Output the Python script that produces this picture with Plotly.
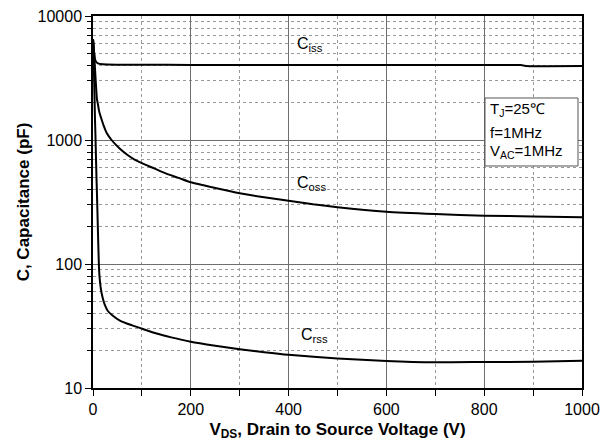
import math
import plotly.graph_objects as go

# ---- data ----
ciss_v = [0, 1, 2, 3, 4, 6, 10, 20, 50, 100, 200, 400, 600, 800, 875, 885, 1000]
ciss_c = [6500, 5800, 5200, 4800, 4500, 4300, 4150, 4080, 4050, 4040, 4035, 4030, 4030, 4025, 4020, 3960, 3950]

coss_v = [0, 1, 2, 3, 4, 6, 8, 10, 12, 14, 18, 22, 28, 38, 45, 55, 70, 85, 100, 125, 150, 175, 200, 250, 300, 350, 400, 450, 500, 600, 700, 800, 900, 1000]
coss_c = [6500, 6000, 5200, 4500, 3800, 2800, 2150, 1950, 1750, 1620, 1450, 1300, 1140, 1000, 930, 850, 760, 695, 650, 590, 535, 495, 456, 410, 372, 345, 324, 303, 287, 264, 253, 245, 242, 238]

crss_v = [0, 1, 2, 3, 4, 5, 6, 7, 8, 9, 10, 11, 12, 13, 15, 17, 20, 24, 30, 40, 55, 80, 102, 130, 160, 200, 250, 300, 350, 400, 500, 600, 700, 800, 900, 1000]
crss_c = [6500, 5000, 3500, 2300, 1500, 1100, 750, 520, 380, 270, 190, 135, 100, 82, 68, 60, 53, 47, 42, 38.5, 35, 32, 29.9, 27.5, 25.6, 23.6, 21.9, 20.5, 19.4, 18.5, 17.3, 16.5, 16.1, 16.2, 16.3, 16.6]

label_names = ["C<sub>iss</sub>", "C<sub>oss</sub>", "C<sub>rss</sub>"]
label_x = [413, 413, 421]
label_y = [5840, 450, 26.7]

x_ticks = [0, 200, 400, 600, 800, 1000]
y_ticks = [10, 100, 1000, 10000]

cond_lines = ["T<sub>J</sub>=25\u2103", "f=1MHz", "V<sub>AC</sub>=1MHz"]

FONT = "Arial, Liberation Sans, sans-serif"

fig = go.Figure()
for v, c in [(ciss_v, ciss_c), (coss_v, coss_c), (crss_v, crss_c)]:
    fig.add_trace(go.Scatter(x=v, y=c, mode="lines",
                             line=dict(color="black", width=2, shape="spline", smoothing=0.6),
                             showlegend=False, hoverinfo="skip"))

for name, lx, ly in zip(label_names, label_x, label_y):
    fig.add_annotation(x=lx, y=math.log10(ly), xref="x", yref="y", text=name,
                       showarrow=False, xanchor="left", yanchor="middle",
                       font=dict(family=FONT, size=16, color="black"))

# condition box
fig.add_shape(type="rect", xref="paper", yref="paper",
              x0=0.8016, x1=0.9918, y0=0.5968, y1=0.7796,
              line=dict(color="#555555", width=1), fillcolor="white", layer="above")
for txt, yy in zip(cond_lines, [0.748, 0.686, 0.636]):
    fig.add_annotation(x=0.808, y=yy, xref="paper", yref="paper", text=txt,
                       showarrow=False, xanchor="left", yanchor="middle",
                       font=dict(family=FONT, size=15, color="black"))

fig.update_layout(
    width=605, height=446,
    margin=dict(l=93, r=23, t=16, b=58, autoexpand=False),
    paper_bgcolor="white", plot_bgcolor="white",
    font=dict(family=FONT, color="black"),
)

fig.update_xaxes(
    range=[0, 1000], tickvals=x_ticks, ticktext=[str(t) for t in x_ticks],
    showline=True, linecolor="black", linewidth=1.5, mirror=True,
    ticks="outside", ticklen=6, tickwidth=1, tickcolor="black",
    tickfont=dict(family=FONT, size=16, color="black"),
    showgrid=True, gridcolor="#6e6e6e", gridwidth=1,
    minor=dict(dtick=100, tick0=0, ticks="outside", ticklen=6, tickcolor="black",
               showgrid=True, gridcolor="#999999", griddash="dot", gridwidth=1),
    zeroline=False,
    title=dict(text="<b>V<sub>DS</sub>, Drain to Source Voltage (V)</b>",
               font=dict(family=FONT, size=17, color="black"), standoff=6),
)

fig.update_yaxes(
    type="log", range=[1, 4], tickvals=y_ticks, ticktext=[str(t) for t in y_ticks],
    showline=True, linecolor="black", linewidth=1.5, mirror=True,
    ticks="outside", ticklen=6, tickwidth=1, tickcolor="black",
    tickfont=dict(family=FONT, size=16, color="black"),
    showgrid=True, gridcolor="#6e6e6e", gridwidth=1,
    minor=dict(dtick="D1", ticks="outside", ticklen=4, tickcolor="black",
               showgrid=True, gridcolor="#999999", griddash="dot", gridwidth=1),
    zeroline=False,
    title=dict(text="<b>C, Capacitance (pF)</b>",
               font=dict(family=FONT, size=17, color="black"), standoff=4),
)

fig.write_html("out.html")
